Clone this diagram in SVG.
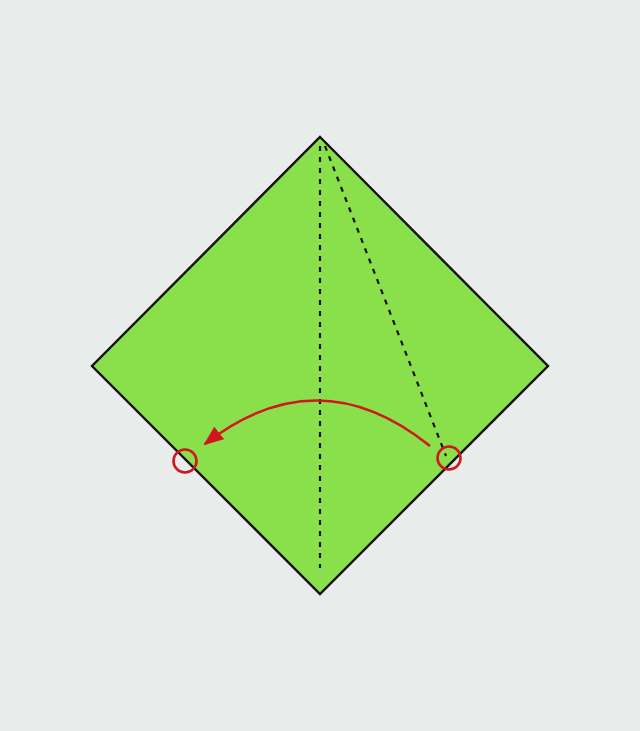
<svg xmlns="http://www.w3.org/2000/svg" width="640" height="731" viewBox="0 0 640 731">
<style>
.crease{stroke:#111;stroke-width:2.2;stroke-dasharray:5,6;fill:none}
.red{stroke:#d0161e;stroke-width:2.6;fill:none}
</style>
<defs>
<marker id="ah2" markerWidth="20" markerHeight="16" refX="18" refY="8" orient="auto" markerUnits="userSpaceOnUse">
<path d="M0,0 L20,8 L0,16 Z" fill="#d0161e"/>
</marker>
</defs>
<rect width="640" height="731" fill="#e8eceb"/>
<g id="paper">
<polygon points="320,137 548,366 320,594 92,366" fill="#8ae04a" stroke="#111" stroke-width="2.4" stroke-linejoin="miter"/>
</g>
<g id="connectors">
<line class="crease" x1="320" y1="146" x2="320" y2="568"/>
<line class="crease" x1="325" y1="146" x2="446" y2="456"/>
<path class="red" d="M430,446 Q318,356 205,444" marker-end="url(#ah2)"/>
</g>
<g id="markers">
<circle cx="185" cy="461" r="11.5" class="red"/>
<circle cx="449" cy="458" r="11.5" class="red"/>
</g>
</svg>
